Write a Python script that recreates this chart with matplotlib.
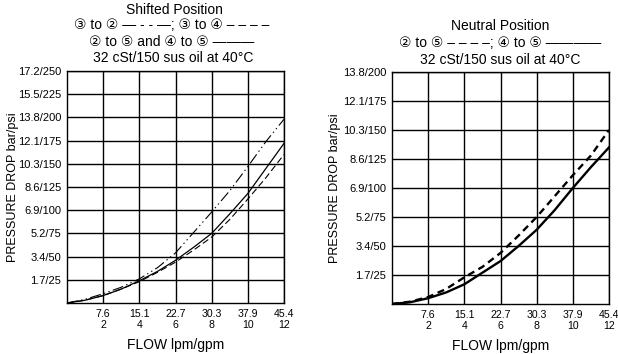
import matplotlib
matplotlib.use("Agg")
import matplotlib.pyplot as plt

plt.rcParams['font.family'] = ['Liberation Sans', 'DejaVu Sans', 'Noto Sans CJK JP']

# ---- data ----
flow_gpm = [0, 1, 2, 3, 4, 5, 6, 7, 8, 9, 10, 11, 12]
x_tick_gpm = [2, 4, 6, 8, 10, 12]
x_tick_labels = ["7.6\n2", "15.1\n4", "22.7\n6", "30.3\n8", "37.9\n10", "45.4\n12"]

# Shifted position (psi)
shift_3to2 = [0, 4, 10, 17, 26, 38, 54, 76, 98, 121, 147, 174, 198]
shift_3to4 = [0, 3, 8, 15, 23, 33, 44, 57, 71, 90, 112, 135, 160]
shift_2to5_4to5 = [0, 3, 8, 15, 24, 34, 46, 60, 75, 96, 118, 145, 172]
left_y_ticks = [25, 50, 75, 100, 125, 150, 175, 200, 225, 250]
left_y_labels = ["1.7/25", "3.4/50", "5.2/75", "6.9/100", "8.6/125", "10.3/150",
                 "12.1/175", "13.8/200", "15.5/225", "17.2/250"]

# Neutral position (psi)
neutral_2to5 = [0, 2, 6, 13, 23, 32, 44, 59, 75, 93, 111, 128, 150]
neutral_4to5 = [0, 1.5, 5, 10, 17, 27, 37, 50, 64, 81, 100, 118, 135]
right_y_ticks = [25, 50, 75, 100, 125, 150, 175, 200]
right_y_labels = ["1.7/25", "3.4/50", "5.2/75", "6.9/100", "8.6/125", "10.3/150",
                  "12.1/175", "13.8/200"]

W, H = 618, 354
fig = plt.figure(figsize=(W / 100, H / 100), dpi=100)

def make_ax(x0, y_top, y_bot, width):
    return fig.add_axes([x0 / W, 1 - y_bot / H, width / W, (y_bot - y_top) / H])

axL = make_ax(67, 71, 303, 217)
axR = make_ax(392, 72, 304, 217)

def style(ax, ymax, yticks, ylabels, ylab_x):
    ax.set_xlim(0, 12)
    ax.set_ylim(0, ymax)
    ax.set_xticks(x_tick_gpm)
    ax.set_xticklabels(x_tick_labels, fontsize=7.6, linespacing=1.15)
    ax.set_yticks(yticks)
    ax.set_yticklabels(ylabels, fontsize=8)
    ax.tick_params(length=0, pad=4)
    ax.grid(True, color='black', linewidth=1.0)
    ax.set_axisbelow(True)
    for s in ax.spines.values():
        s.set_color('black')
        s.set_linewidth(1.0)
    ax.set_xlabel("FLOW lpm/gpm", fontsize=10, labelpad=6)
    ax.set_ylabel("PRESSURE DROP bar/psi", fontsize=9)
    ax.yaxis.set_label_coords(ylab_x, 0.5)

style(axL, 250, left_y_ticks, left_y_labels, -0.22)
style(axR, 200, right_y_ticks, right_y_labels, -0.235)

axL.plot(flow_gpm, shift_3to2, color='black', lw=0.8,
         linestyle=(0, (10, 3, 1.2, 3, 1.2, 3)))
axL.plot(flow_gpm, shift_3to4, color='black', lw=0.8, linestyle=(0, (6, 3)))
axL.plot(flow_gpm, shift_2to5_4to5, color='black', lw=0.9)

axR.plot(flow_gpm, neutral_2to5, color='black', lw=1.7, linestyle=(0, (3, 2)))
axR.plot(flow_gpm, neutral_4to5, color='black', lw=1.7)

def ftext(xp, yp, s):
    fig.text(xp / W, 1 - yp / H, s, ha='center', va='center', fontsize=10)

ftext(174, 10, "Shifted Position")
ftext(172, 25, "③ to ② — - - —; ③ to ④ – – – –")
ftext(172, 42, "② to ⑤ and ④ to ⑤ ———")
ftext(173, 58, "32 cSt/150 sus oil at 40°C")

ftext(500, 26, "Neutral Position")
ftext(500, 43, "② to ⑤ – – – –; ④ to ⑤ ————")
ftext(500, 60, "32 cSt/150 sus oil at 40°C")

fig.savefig("out.png", dpi=100, facecolor='white')
